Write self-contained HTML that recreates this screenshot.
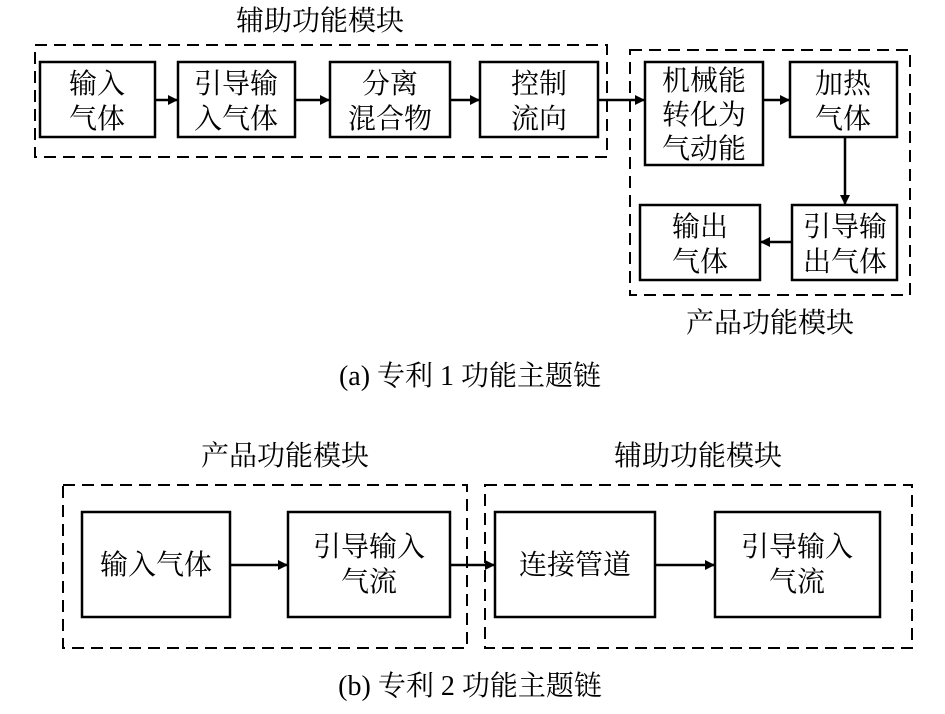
<!DOCTYPE html>
<html><head><meta charset="utf-8"><style>
body{margin:0;background:#fff;}
svg text{font-family:"Liberation Serif","Noto Serif CJK SC","Noto Sans CJK SC",serif;font-size:28px;fill:#000;text-anchor:middle;}
.b{fill:none;stroke:#000;stroke-width:2.5}
.d{fill:none;stroke:#000;stroke-width:2;stroke-dasharray:12,7}
.l{stroke:#000;stroke-width:2.5}
</style></head><body>
<svg width="945" height="709" viewBox="0 0 945 709" xmlns="http://www.w3.org/2000/svg">
<defs><marker id="a" markerWidth="10" markerHeight="10" refX="9" refY="5" orient="auto" markerUnits="userSpaceOnUse" viewBox="0 0 10 10"><path d="M0,0L10,5L0,10Z"/></marker></defs>
<text x="320" y="30">辅助功能模块</text>
<rect class="d" x="35" y="45" width="572" height="112"/>
<rect class="b" x="40" y="62" width="115" height="75"/>
<text x="97" y="93">输入</text><text x="97" y="128">气体</text>
<rect class="b" x="178" y="62" width="117" height="75"/>
<text x="236" y="93">引导输</text><text x="236" y="128">入气体</text>
<rect class="b" x="330" y="62" width="120" height="75"/>
<text x="390" y="93">分离</text><text x="390" y="128">混合物</text>
<rect class="b" x="480" y="62" width="118" height="75"/>
<text x="539" y="93">控制</text><text x="539" y="128">流向</text>
<line class="l" x1="155" y1="100" x2="177" y2="100" marker-end="url(#a)"/>
<line class="l" x1="295" y1="100" x2="329" y2="100" marker-end="url(#a)"/>
<line class="l" x1="450" y1="100" x2="479" y2="100" marker-end="url(#a)"/>
<line class="l" x1="598" y1="100" x2="644" y2="100" marker-end="url(#a)"/>
<rect class="d" x="630" y="50" width="280" height="245"/>
<rect class="b" x="645" y="62" width="118" height="103"/>
<text x="704" y="90">机械能</text><text x="704" y="124">转化为</text><text x="704" y="158">气动能</text>
<rect class="b" x="790" y="62" width="107" height="75"/>
<text x="843" y="93">加热</text><text x="843" y="128">气体</text>
<line class="l" x1="763" y1="100" x2="789" y2="100" marker-end="url(#a)"/>
<line class="l" x1="845" y1="137" x2="845" y2="204" marker-end="url(#a)"/>
<rect class="b" x="792" y="205" width="105" height="75"/>
<text x="845" y="236">引导输</text><text x="845" y="271">出气体</text>
<rect class="b" x="640" y="205" width="120" height="75"/>
<text x="700" y="236">输出</text><text x="700" y="271">气体</text>
<line class="l" x1="792" y1="242" x2="761" y2="242" marker-end="url(#a)"/>
<text x="770" y="332">产品功能模块</text>
<text x="470" y="385">(a) 专利 1 功能主题链</text>
<text x="285" y="465">产品功能模块</text>
<text x="698" y="465">辅助功能模块</text>
<rect class="d" x="63" y="485" width="404" height="163"/>
<rect class="d" x="485" y="485" width="427" height="163"/>
<rect class="b" x="82" y="512" width="148" height="105"/>
<text x="156" y="574">输入气体</text>
<rect class="b" x="288" y="512" width="162" height="105"/>
<text x="369" y="556">引导输入</text><text x="369" y="591">气流</text>
<rect class="b" x="495" y="512" width="160" height="105"/>
<text x="575" y="574">连接管道</text>
<rect class="b" x="715" y="512" width="165" height="105"/>
<text x="797" y="556">引导输入</text><text x="797" y="591">气流</text>
<line class="l" x1="230" y1="565" x2="287" y2="565" marker-end="url(#a)"/>
<line class="l" x1="450" y1="565" x2="494" y2="565" marker-end="url(#a)"/>
<line class="l" x1="655" y1="565" x2="714" y2="565" marker-end="url(#a)"/>
<text x="470" y="695">(b) 专利 2 功能主题链</text>
</svg>
</body></html>
